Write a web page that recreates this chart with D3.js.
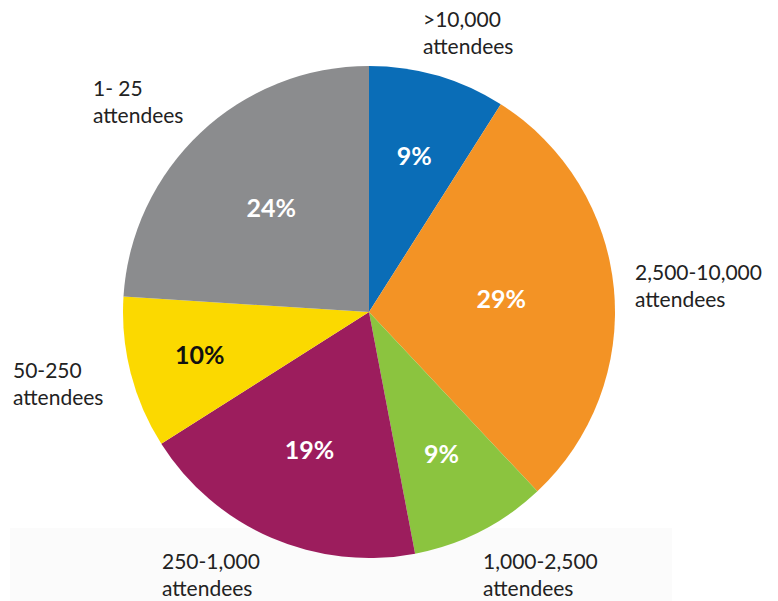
<!DOCTYPE html>
<html>
<head>
<meta charset="utf-8">
<script src="https://cdn.jsdelivr.net/npm/d3@7/dist/d3.min.js"></script>
<style>
  html, body { margin: 0; padding: 0; background: #fff; }
  svg { display: block; }
</style>
</head>
<body>
<svg id="chart" width="778" height="601"></svg>
<script>
// Share of events by attendance size (percent), clockwise from 12 o'clock
const categories = [">10,000", "2,500-10,000", "1,000-2,500", "250-1,000", "50-250", "1- 25"];
const shares = [9, 29, 9, 19, 10, 24];
const sliceColors = ["#0a6db7", "#f39325", "#8bc43f", "#9c1d5d", "#fbd900", "#8b8c8e"];
const valueTextColors = ["#fff", "#fff", "#fff", "#fff", "#111", "#fff"];

// Layout helpers (not data): radial position of value labels, and category label anchors
const valueLabelRadius = [0.66, 0.54, 0.65, 0.61, 0.71, 0.58];
const categoryAnchors = [
  { dx: 54, dy: -285 },
  { dx: 266, dy: -32 },
  { dx: 114, dy: 257 },
  { dx: -207, dy: 257 },
  { dx: -356, dy: 66 },
  { dx: -276, dy: -216 }
];

const W = 778, H = 601;
const cx = 369, cy = 312, R = 246;
const svg = d3.select("#chart");

// faint panel behind the bottom labels
svg.append("rect").attr("x", 10).attr("y", 528).attr("width", 662).attr("height", 73)
  .attr("fill", "#fbfbfb");

const data = categories.map((c, i) => ({ cat: c, value: shares[i], i }));
const pie = d3.pie().sort(null).value(d => d.value);
const arcs = pie(data);
const arc = d3.arc().innerRadius(0).outerRadius(R);

const g = svg.append("g").attr("transform", `translate(${cx},${cy})`);

g.selectAll("path.slice").data(arcs).join("path")
  .attr("class", "slice")
  .attr("d", arc)
  .attr("fill", d => sliceColors[d.data.i]);

// value labels inside the slices
g.selectAll("text.val").data(arcs).join("text")
  .attr("class", "val")
  .attr("transform", d => {
    const r = R * valueLabelRadius[d.data.i];
    const a = (d.startAngle + d.endAngle) / 2;
    return `translate(${r * Math.sin(a)},${-r * Math.cos(a)})`;
  })
  .attr("text-anchor", "middle")
  .attr("dy", "0.36em")
  .attr("font-family", "Lato, 'Open Sans', sans-serif")
  .attr("font-weight", "bold")
  .attr("font-size", 25)
  .attr("fill", d => valueTextColors[d.data.i])
  .text(d => d.data.value + "%");

// category labels outside the pie
const lab = g.selectAll("text.cat").data(arcs).join("text")
  .attr("class", "cat")
  .attr("x", d => categoryAnchors[d.data.i].dx)
  .attr("y", d => categoryAnchors[d.data.i].dy)
  .attr("font-family", "Lato, 'Open Sans', sans-serif")
  .attr("font-size", 21)
  .attr("fill", "#222");
lab.append("tspan").text(d => d.data.cat);
lab.append("tspan")
  .attr("x", d => categoryAnchors[d.data.i].dx)
  .attr("dy", 27)
  .text("attendees");
</script>
</body>
</html>
